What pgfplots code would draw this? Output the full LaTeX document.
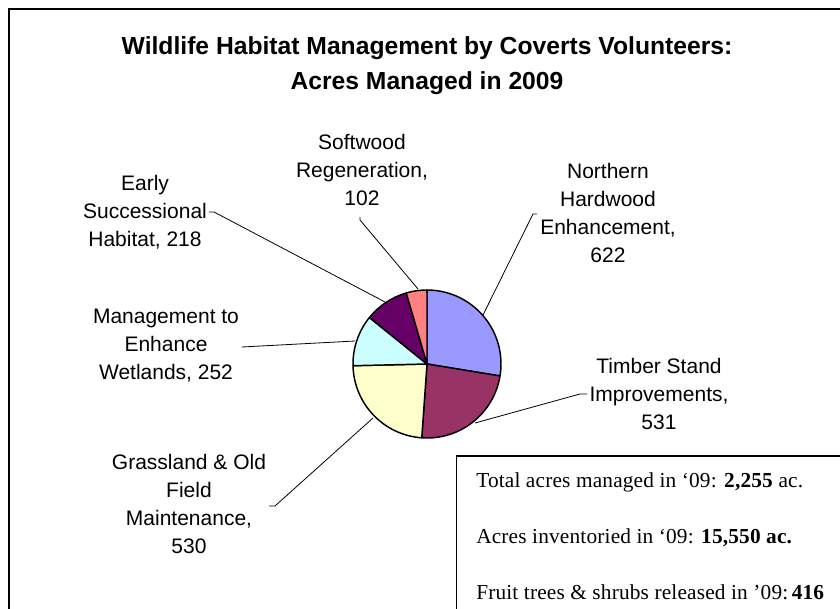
\documentclass[border=0pt]{standalone}
\usepackage{pgfplots}
\pgfplotsset{compat=1.18}
\usepackage{pgfplotstable}
\usepackage{fontspec}
\setmainfont{Liberation Sans}
\newfontfamily\boxfont[LetterSpace=0.8]{Liberation Serif}

\definecolor{cNH}{HTML}{9999FF}
\definecolor{cTS}{HTML}{993366}
\definecolor{cGL}{HTML}{FFFFCC}
\definecolor{cWL}{HTML}{CCFFFF}
\definecolor{cES}{HTML}{660066}
\definecolor{cSW}{HTML}{FF8080}

\tikzset{
  lbl/.style={font=\fontsize{15.75}{21}\selectfont, align=center, inner sep=0pt},
  boxtxt/.style={anchor=base west, inner sep=0pt, font=\boxfont\fontsize{16}{18}\selectfont},
  leader/.style={line width=0.6pt},
}

% acres managed in 2009, clockwise from 12 o'clock
\pgfplotstableread{
key value fill
NorthernHardwood 622 cNH
TimberStand      531 cTS
Grassland        530 cGL
Wetlands         252 cWL
EarlySucc        218 cES
Softwood         102 cSW
}\piedata

\begin{document}
\begin{tikzpicture}
\begin{axis}[
  at={(0,0)}, anchor=south west,
  width=630pt, height=456pt, scale only axis,
  xmin=0, xmax=840, ymin=0, ymax=608,
  hide axis, clip=false,
]
% frame of the chart area
\draw[line width=1.5pt] (axis cs:8.7,-10) -- (axis cs:8.7,598.7) -- (axis cs:860,598.7);

% title
\node[align=center, inner sep=0pt, font=\bfseries\fontsize{18.5}{26.25}\selectfont] at (axis cs:427,542)
  {Wildlife Habitat Management by Coverts Volunteers:\\Acres Managed in 2009};

% pie slices from the table
\pgfplotstablegetrowsof{\piedata}
\pgfmathtruncatemacro\lastrow{\pgfplotsretval-1}
\def\total{0}
\pgfplotsforeachungrouped \i in {0,...,\lastrow}{%
  \pgfplotstablegetelem{\i}{value}\of\piedata
  \pgfmathsetmacro\total{\total+\pgfplotsretval}%
}
\def\angA{90}
\pgfplotsforeachungrouped \i in {0,...,\lastrow}{%
  \pgfplotstablegetelem{\i}{value}\of\piedata \let\val\pgfplotsretval
  \pgfplotstablegetelem{\i}{fill}\of\piedata \let\col\pgfplotsretval
  \pgfmathsetmacro\angB{\angA-\val/\total*360}%
  \edef\slice{\noexpand\filldraw[fill=\col, draw=black, line width=1.1pt, line join=round]
    (axis cs:427,244) -- ++(\angA:55.5pt) arc[start angle=\angA, end angle=\angB, radius=55.5pt] -- cycle;}%
  \slice
  \let\angA\angB
}

% leader lines
\draw[leader] (axis cs:209,396) -- (axis cs:214,396) -- (axis cs:385,306);
\draw[leader] (axis cs:242,261) -- (axis cs:355,267);
\draw[leader] (axis cs:360,391) -- (axis cs:360,388) -- (axis cs:418,319);
\draw[leader] (axis cs:537,394) -- (axis cs:533,394) -- (axis cs:483,293);
\draw[leader] (axis cs:587,214) -- (axis cs:580,214) -- (axis cs:475,185);
\draw[leader] (axis cs:269,102) -- (axis cs:275,102) -- (axis cs:373,190);

% data labels
\node[lbl] at (axis cs:362,438.5) {Softwood\\Regeneration,\\102};
\node[lbl] at (axis cs:608,395) {Northern\\Hardwood\\Enhancement,\\622};
\node[lbl] at (axis cs:659,214) {Timber Stand\\Improvements,\\531};
\node[lbl] at (axis cs:189,104) {Grassland \& Old\\Field\\Maintenance,\\530};
\node[lbl] at (axis cs:166,262) {Management to\\Enhance\\Wetlands, 252};
\node[lbl] at (axis cs:145,396) {Early\\Successional\\Habitat, 218};

% summary box
\draw[line width=1.1pt, fill=white] (axis cs:456.5,-10) -- (axis cs:456.5,152) -- (axis cs:860,152);
\node[boxtxt] at (axis cs:476,121) {Total acres managed in ‘09: \textbf{2,255} ac.};
\node[boxtxt] at (axis cs:476,65) {Acres inventoried in ‘09: \textbf{15,550 ac.}};
\node[boxtxt] at (axis cs:476,9) {Fruit trees \& shrubs released in ’09:\,\textbf{416}};
\end{axis}
\pgfresetboundingbox
\useasboundingbox (0,0) rectangle (630pt,456pt);
\end{tikzpicture}
\end{document}
